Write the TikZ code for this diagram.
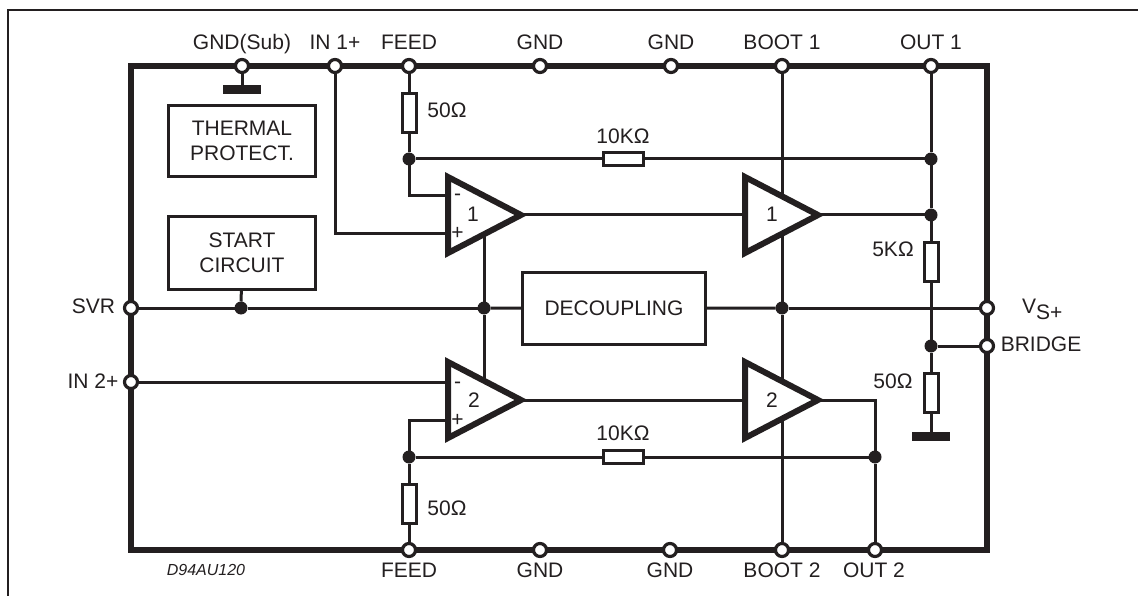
\documentclass[tikz,border=0pt]{standalone}
\usepackage{fontspec}
\setmainfont{Liberation Sans}
\definecolor{ink}{HTML}{231F20}
\pgfdeclarelayer{wires}
\pgfsetlayers{wires,main}
\tikzset{
  every node/.style={inner sep=0pt,outer sep=0pt,text=ink,font=\fontsize{21}{25}\selectfont},
  wire/.style={draw=ink,line width=3pt},
  chipbox/.style={draw=ink,line width=6pt,rectangle,minimum width=856pt,minimum height=484pt},
  blockbox/.style={draw=ink,line width=3pt,rectangle,fill=white,align=center},
  resv/.style={draw=ink,line width=3pt,rectangle,fill=white,minimum width=14pt,minimum height=39pt},
  resh/.style={draw=ink,line width=3pt,rectangle,fill=white,minimum width=40pt,minimum height=13pt},
  pin/.style={draw=ink,line width=3.2pt,circle,fill=white,minimum size=13pt},
  junction/.style={circle,fill=ink,minimum size=13pt},
  groundbar/.style={rectangle,fill=ink,minimum width=38pt,minimum height=9pt},
  amp/.style={draw=ink,line width=6pt,fill=white,miter limit=10},
  lbl/.style={anchor=base},
}
\begin{document}
\begin{tikzpicture}[x=1pt,y=-1pt]
\useasboundingbox (0,0) rectangle (1138,596);
\draw[ink,line width=2.6pt] (8,596) -- (8,10) -- (1138,10);

% package outline
\node[chipbox] (chip) at (559,308) {};

% amplifiers
\draw[amp] (448,177) -- (448,253) -- (521,215) -- cycle;
\draw[amp] (745,177) -- (745,253) -- (818,215) -- cycle;
\draw[amp] (448,362) -- (448,438) -- (521,400) -- cycle;
\draw[amp] (745,362) -- (745,438) -- (818,400) -- cycle;
\coordinate (aOneMinus) at (448,196);
\coordinate (aOnePlus) at (448,234);
\coordinate (aOneOut) at (521,215);
\coordinate (aOneMid) at (484,215);
\coordinate (bOneIn) at (745,215);
\coordinate (bOneOut) at (818,215);
\coordinate (aTwoMinus) at (448,382);
\coordinate (aTwoPlus) at (448,420);
\coordinate (aTwoOut) at (521,400);
\coordinate (aTwoMid) at (484,400);
\coordinate (bTwoIn) at (745,400);
\coordinate (bTwoOut) at (818,400);
\node (n1) at (473,214) {1};
\node (n2) at (772,214) {1};
\node (n3) at (474,400) {2};
\node (n4) at (772,400) {2};
\node[lbl] (m1) at (457.5,201) {-};
\node[lbl] (p1) at (457.5,240) {+};
\node[lbl] (m2) at (457.5,388) {-};
\node[lbl] (p2) at (457.5,426) {+};

% blocks
\node[blockbox,minimum width=147pt,minimum height=71pt] (thermal) at (242,141) {THERMAL\\PROTECT.};
\node[blockbox,minimum width=147pt,minimum height=73pt] (start) at (242,253) {START\\CIRCUIT};
\node[blockbox,minimum width=183pt,minimum height=72pt] (decoup) at (614,308.5) {DECOUPLING};

% resistors
\node[resv] (rFeedT) at (409,113) {};
\node[resv] (rFeedB) at (409,504) {};
\node[resv] (rFive) at (931,262) {};
\node[resv] (rFifty) at (931,393) {};
\node[resh] (rTenT) at (623,159) {};
\node[resh] (rTenB) at (623,457) {};

% grounds
\node[groundbar] (gndA) at (242,89.5) {};
\node[groundbar] (gndB) at (931,436.5) {};

% junctions
\node[junction] (jFbL) at (409,159) {};
\node[junction] (jFbR) at (931,159) {};
\node[junction] (jOut) at (931,215) {};
\node[junction] (jStart) at (241,308) {};
\node[junction] (jMid) at (484,308) {};
\node[junction] (jBoot) at (782,308) {};
\node[junction] (jBr) at (931,346) {};
\node[junction] (jFb2L) at (409,457) {};
\node[junction] (jFb2R) at (875,457) {};

% pins
\node[pin] (pGndSub) at (242,66) {};
\node[pin] (pInOne) at (335,66) {};
\node[pin] (pFeedT) at (409,66) {};
\node[pin] (pGndT1) at (540,66) {};
\node[pin] (pGndT2) at (671,66) {};
\node[pin] (pBootOne) at (782,66) {};
\node[pin] (pOutOne) at (931,66) {};
\node[pin] (pSvr) at (131,308) {};
\node[pin] (pInTwo) at (131,382) {};
\node[pin] (pVs) at (987,308) {};
\node[pin] (pBridge) at (987,346) {};
\node[pin] (pFeedB) at (409,550) {};
\node[pin] (pGndB1) at (540,550) {};
\node[pin] (pGndB2) at (670,550) {};
\node[pin] (pBootTwo) at (782,550) {};
\node[pin] (pOutTwo) at (875,550) {};

% wires
\begin{pgfonlayer}{wires}
\draw[wire] (pGndSub) -- (gndA);
\draw[wire] (pInOne) |- (aOnePlus);
\draw[wire] (pFeedT) -- (rFeedT);
\draw[wire] (rFeedT) -- (jFbL);
\draw[wire] (jFbL) |- (aOneMinus);
\draw[wire] (jFbL) -- (rTenT);
\draw[wire] (rTenT) -- (jFbR);
\draw[wire] (pOutOne) -- (jFbR);
\draw[wire] (jFbR) -- (jOut);
\draw[wire] (jOut) -- (rFive);
\draw[wire] (rFive) -- (jBr);
\draw[wire] (jBr) -- (rFifty);
\draw[wire] (rFifty) -- (gndB);
\draw[wire] (jBr) -- (pBridge);
\draw[wire] (aOneOut) -- (bOneIn);
\draw[wire] (bOneOut) -- (jOut);
\draw[wire] (aTwoOut) -- (bTwoIn);
\draw[wire] (bTwoOut) -| (jFb2R);
\draw[wire] (jFb2R) -- (pOutTwo);
\draw[wire] (pInTwo) -- (aTwoMinus);
\draw[wire] (aTwoPlus) -| (jFb2L);
\draw[wire] (jFb2L) -- (rTenB);
\draw[wire] (rTenB) -- (jFb2R);
\draw[wire] (jFb2L) -- (rFeedB);
\draw[wire] (rFeedB) -- (pFeedB);
\draw[wire] (pSvr) -- (jStart);
\draw[wire] (start) -- (jStart);
\draw[wire] (jStart) -- (jMid);
\draw[wire] (jMid) -- (decoup);
\draw[wire] (decoup) -- (jBoot);
\draw[wire] (jBoot) -- (pVs);
\draw[wire] (aOneMid) -- (jMid);
\draw[wire] (jMid) -- (aTwoMid);
\draw[wire] (pBootOne) -- (jBoot);
\draw[wire] (jBoot) -- (pBootTwo);
\end{pgfonlayer}

% labels
\node[lbl] (tGndSub) at (242,50) {GND(Sub)};
\node[lbl] (tInOne) at (335,50) {IN 1+};
\node[lbl] (tFeedT) at (409,50) {FEED};
\node[lbl] (tGndT1) at (540,50) {GND};
\node[lbl] (tGndT2) at (671,50) {GND};
\node[lbl] (tBootOne) at (782,50) {BOOT 1};
\node[lbl] (tOutOne) at (931,50) {OUT 1};
\node[lbl] (tFeedB) at (409,577) {FEED};
\node[lbl] (tGndB1) at (540,577) {GND};
\node[lbl] (tGndB2) at (670,577) {GND};
\node[lbl] (tBootTwo) at (782,577) {BOOT 2};
\node[lbl] (tOutTwo) at (874,577) {OUT 2};
\node[lbl,font=\fontsize{16}{19}\selectfont\itshape] (tCode) at (206,575) {D94AU120};
\node[lbl] (tSvr) at (93.5,313) {SVR};
\node[lbl] (tInTwo) at (93,388) {IN 2+};
\node[lbl] (tBridge) at (1041,351) {BRIDGE};
\node[anchor=base west] (tVs) at (1022,313) {V\raisebox{-6pt}{S+}};
\node[lbl] (r1) at (447,118) {50Ω};
\node[lbl] (r2) at (623,144) {10KΩ};
\node[lbl] (r3) at (893,257) {5KΩ};
\node[lbl] (r4) at (893,388) {50Ω};
\node[lbl] (r5) at (623,440) {10KΩ};
\node[lbl] (r6) at (447,515) {50Ω};
\end{tikzpicture}
\end{document}
